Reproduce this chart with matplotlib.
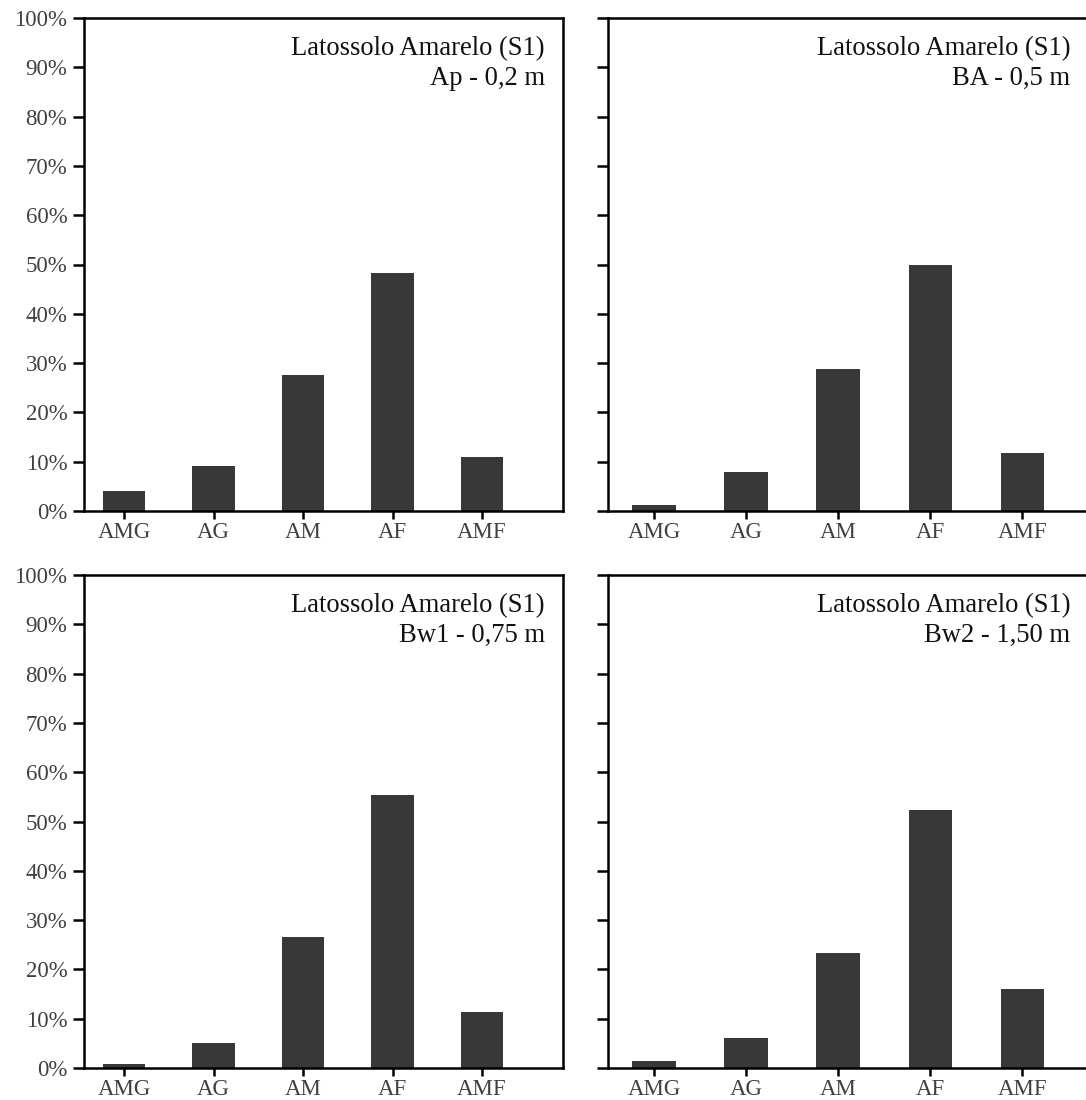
import numpy as np
import matplotlib
matplotlib.use('Agg')
import matplotlib.pyplot as plt
from matplotlib.ticker import PercentFormatter

# categorias de fracao de areia
classes = ['AMG', 'AG', 'AM', 'AF', 'AMF']

# percentuais
ap_02 = [4.1, 9.2, 27.6, 48.2, 11.0]
ba_05 = [1.2, 8.0, 28.8, 50.0, 11.8]
bw1_075 = [0.8, 5.1, 26.6, 55.4, 11.4]
bw2_150 = [1.4, 6.1, 23.3, 52.3, 16.0]

titulo = 'Latossolo Amarelo (S1)'
horizontes = ['Ap - 0,2 m', 'BA - 0,5 m', 'Bw1 - 0,75 m', 'Bw2 - 1,50 m']

plt.rcParams['font.family'] = ['Liberation Serif', 'DejaVu Serif']

W, H = 1086, 1100
fig = plt.figure(figsize=(W / 100, H / 100), dpi=100)

def px_box(x0, y_top, width, height):
    return [x0 / W, 1 - (y_top + height) / H, width / W, height / H]

# (posicao, xlim, dados, horizonte, mostrar rotulos y, x do texto)
paineis = [
    (px_box(84, 18, 479, 493), (-0.447, 4.905), ap_02, horizontes[0], True, 0.962),
    (px_box(608, 18, 497, 493), (-0.5, 4.9), ba_05, horizontes[1], False, 0.93),
    (px_box(84, 575, 479, 493), (-0.447, 4.905), bw1_075, horizontes[2], True, 0.962),
    (px_box(608, 575, 497, 493), (-0.5, 4.9), bw2_150, horizontes[3], False, 0.93),
]

cor_barra = '#383838'
cor_tick = '#404040'

for pos, xlim, valores, horizonte, rotulos_y, xt in paineis:
    ax = fig.add_axes(pos)
    x = np.arange(len(classes))
    ax.bar(x, valores, width=0.47, color=cor_barra, zorder=2)
    ax.set_xlim(*xlim)
    ax.set_ylim(0, 100)
    ax.set_yticks(np.arange(0, 101, 10))
    ax.yaxis.set_major_formatter(PercentFormatter(decimals=0))
    ax.set_xticks(x)
    ax.set_xticklabels(classes)
    ax.tick_params(axis='both', direction='out', width=1.8, colors='black',
                   labelcolor=cor_tick, labelsize=16.5)
    ax.tick_params(axis='y', length=8, pad=4)
    ax.tick_params(axis='x', length=6, pad=2)
    if not rotulos_y:
        ax.tick_params(axis='y', labelleft=False)
    for s in ax.spines.values():
        s.set_linewidth(1.8)
    ax.text(xt, 0.925, titulo, transform=ax.transAxes, ha='right',
            va='baseline', fontsize=19.2, color='#111111')
    ax.text(xt, 0.864, horizonte, transform=ax.transAxes, ha='right',
            va='baseline', fontsize=19.2, color='#111111')

fig.savefig('out.png', dpi=100)
